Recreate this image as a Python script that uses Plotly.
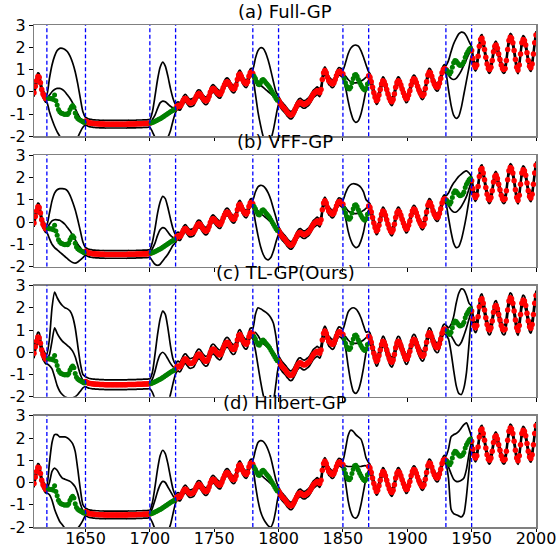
import plotly.graph_objects as go
from plotly.subplots import make_subplots

# ---------------- data ----------------
TRAIN_SEGMENTS = [(1610, 1620), (1650, 1700), (1720, 1780), (1800, 1850), (1870, 1930), (1950, 2000)]
GAPS = [(1620, 1650), (1700, 1720), (1780, 1800), (1850, 1870), (1930, 1950)]
GAP_EDGES = [1620, 1650, 1700, 1720, 1780, 1800, 1850, 1870, 1930, 1950]
X_TICKS = [1650, 1700, 1750, 1800, 1850, 1900, 1950, 2000]
Y_TICKS = [-2, -1, 0, 1, 2, 3]
Y_TICK_TEXT = ["-2", "-1", "0", "1", "2", "3"]

TRAIN_1610 = [-0.05, 0.25, 0.5, 0.68, 0.65, 0.4, 0.1, -0.1, -0.2, -0.3, -0.3]
TRAIN_1650 = [-1.32, -1.35, -1.38, -1.40, -1.41, -1.42, -1.43, -1.43, -1.44, -1.44,
              -1.44, -1.45, -1.45, -1.45, -1.45, -1.46, -1.46, -1.46, -1.46, -1.46,
              -1.46, -1.46, -1.46, -1.46, -1.46, -1.46, -1.46, -1.46, -1.46, -1.46,
              -1.46, -1.46, -1.46, -1.45, -1.45, -1.45, -1.45, -1.45, -1.45, -1.45,
              -1.44, -1.44, -1.44, -1.44, -1.44, -1.43, -1.43, -1.43, -1.43, -1.42, -1.42]
TRAIN_1720 = [-0.75, -0.65, -0.62, -0.66, -0.62, -0.5, -0.38, -0.3, -0.3, -0.38,
              -0.45, -0.5, -0.5, -0.48, -0.45, -0.35, -0.22, -0.12, -0.08, -0.1,
              -0.18, -0.28, -0.35, -0.4, -0.4, -0.35, -0.2, -0.02, 0.1, 0.15,
              0.12, 0.05, -0.02, -0.08, -0.12, -0.1, 0.02, 0.18, 0.32, 0.42,
              0.45, 0.42, 0.33, 0.22, 0.15, 0.12, 0.15, 0.3, 0.55, 0.75,
              0.8, 0.7, 0.55, 0.45, 0.38, 0.36, 0.45, 0.7, 0.85, 0.88,
              0.82]
TRAIN_1800 = [-0.38, -0.48, -0.58, -0.66, -0.72, -0.78, -0.86, -0.94, -1.0, -1.05,
              -1.05, -1.0, -0.9, -0.78, -0.65, -0.55, -0.48, -0.47, -0.52, -0.56,
              -0.57, -0.55, -0.5, -0.46, -0.4, -0.3, -0.2, -0.1, -0.05, 0.0,
              0.05, 0.0, -0.05, 0.1, 0.55, 0.85, 0.95, 0.85, 0.65, 0.5,
              0.45, 0.38, 0.35, 0.4, 0.55, 0.72, 0.85, 0.92, 0.9, 0.85,
              0.8]
TRAIN_1870 = [0.72, 0.65, 0.45, 0.2, -0.05, -0.25, -0.4, -0.35, -0.15, 0.1,
              0.35, 0.5, 0.45, 0.3, 0.1, -0.1, -0.28, -0.4, -0.45, -0.35,
              -0.1, 0.2, 0.42, 0.5, 0.45, 0.3, 0.12, -0.05, -0.2, -0.32,
              -0.3, -0.15, 0.05, 0.3, 0.5, 0.58, 0.55, 0.42, 0.25, 0.08,
              -0.05, -0.15, -0.18, -0.1, 0.15, 0.45, 0.75, 0.88, 0.85, 0.7,
              0.5, 0.35, 0.25, 0.2, 0.22, 0.38, 0.6, 0.85, 1.0, 1.05,
              1.0]
TRAIN_1950 = [1.85, 1.5, 1.2, 1.1, 1.2, 1.6, 2.05, 2.35, 2.4, 2.2,
              1.9, 1.55, 1.25, 1.05, 1.0, 1.1, 1.4, 1.8, 2.05, 2.1,
              1.95, 1.7, 1.45, 1.2, 1.05, 1.0, 1.05, 1.4, 1.9, 2.3,
              2.45, 2.4, 2.2, 1.85, 1.45, 1.1, 0.98, 1.2, 1.7, 2.2,
              2.35, 2.3, 2.1, 1.75, 1.4, 1.15, 1.08, 1.25, 1.7, 2.2,
              2.55]
TRAIN_VALUES = [TRAIN_1610, TRAIN_1650, TRAIN_1720, TRAIN_1800, TRAIN_1870, TRAIN_1950]

TEST_1620 = [-0.28, -0.3, -0.32, -0.3, -0.35, -0.15, -0.4, -0.6, -0.8, -0.9,
             -0.95, -0.98, -1.0, -1.02, -1.0, -1.02, -0.95, -0.8, -0.68, -0.62,
             -0.7, -0.95, -1.12, -1.2, -1.25, -1.28, -1.32, -1.35, -1.38]
TEST_1700 = [-1.4, -1.38, -1.36, -1.33, -1.3, -1.27, -1.24, -1.21, -1.18, -1.14,
             -1.1, -1.06, -1.02, -0.98, -0.94, -0.9, -0.86, -0.83, -0.8]
TEST_1780 = [0.7, 0.6, 0.45, 0.35, 0.32, 0.4, 0.52, 0.55, 0.5, 0.42,
             0.35, 0.28, 0.2, 0.1, 0.0, -0.1, -0.2, -0.3, -0.38]
TEST_1850 = [0.6, 0.4, 0.25, 0.15, 0.12, 0.2, 0.4, 0.6, 0.75, 0.78,
             0.7, 0.55, 0.42, 0.3, 0.2, 0.12, 0.08, 0.15, 0.35]
TEST_1930 = [0.95, 0.85, 0.8, 0.9, 1.1, 1.3, 1.4, 1.38, 1.3, 1.22,
             1.18, 1.2, 1.25, 1.35, 1.55, 1.7, 1.8, 1.9, 1.95]
TEST_VALUES = [TEST_1620, TEST_1700, TEST_1780, TEST_1850, TEST_1930]

# Predictions inside each gap, every 2 years (interior points), per model
FULL_GP = {
    "band": 0.17,
    "upper": [[0.6, 1.2, 1.6, 1.85, 1.95, 1.95, 1.9, 1.8, 1.6, 1.3, 0.9, 0.35, -0.3, -0.9],
              [-0.9, -0.2, 0.55, 1.1, 1.33, 1.15, 0.7, 0.15, -0.3],
              [1.5, 1.85, 1.98, 1.95, 1.75, 1.4, 0.95, 0.45, 0.0],
              [1.3, 1.7, 1.95, 2.07, 2.1, 2.05, 1.85, 1.55, 1.2],
              [1.4, 1.8, 2.15, 2.4, 2.6, 2.68, 2.65, 2.5, 2.25]],
    "mean": [[-0.15, 0.0, 0.1, 0.15, 0.15, 0.1, 0.0, -0.15, -0.3, -0.5, -0.75, -1.0, -1.2, -1.3],
             [-1.25, -1.05, -0.75, -0.5, -0.42, -0.45, -0.55, -0.65, -0.72],
             [0.65, 0.45, 0.3, 0.2, 0.1, 0.0, -0.1, -0.2, -0.3],
             [0.7, 0.55, 0.45, 0.4, 0.4, 0.42, 0.48, 0.55, 0.65],
             [0.75, 0.6, 0.55, 0.6, 0.75, 0.95, 1.2, 1.45, 1.7]],
    "lower": [[-0.9, -1.25, -1.55, -1.8, -2.0, -2.2, -2.35, -2.45, -2.5, -2.45, -2.3, -2.05, -1.8, -1.6],
              [-1.8, -2.05, -2.25, -2.35, -2.35, -2.25, -2.05, -1.75, -1.3],
              [-0.1, -0.9, -1.5, -2.0, -2.3, -2.35, -2.15, -1.7, -1.1],
              [0.2, -0.4, -0.9, -1.25, -1.38, -1.3, -1.0, -0.5, 0.1],
              [0.1, -0.6, -1.05, -1.2, -1.1, -0.7, -0.1, 0.5, 1.1]],
}
VFF_GP = {
    "band": 0.17,
    "upper": [[0.4, 0.95, 1.3, 1.45, 1.5, 1.5, 1.48, 1.4, 1.2, 0.9, 0.55, 0.1, -0.4, -0.9],
              [-0.9, -0.3, 0.4, 0.9, 1.15, 1.05, 0.65, 0.15, -0.3],
              [1.35, 1.58, 1.65, 1.62, 1.5, 1.3, 1.0, 0.6, 0.2],
              [1.3, 1.55, 1.68, 1.72, 1.7, 1.65, 1.55, 1.35, 1.0],
              [1.3, 1.55, 1.75, 1.9, 2.05, 2.15, 2.25, 2.3, 2.2]],
    "mean": [[-0.1, 0.05, 0.1, 0.1, 0.08, 0.0, -0.1, -0.25, -0.4, -0.6, -0.8, -1.0, -1.15, -1.3],
             [-1.2, -0.95, -0.6, -0.35, -0.25, -0.3, -0.45, -0.6, -0.7],
             [0.65, 0.5, 0.38, 0.3, 0.2, 0.1, 0.0, -0.1, -0.25],
             [0.65, 0.5, 0.42, 0.38, 0.38, 0.4, 0.45, 0.52, 0.62],
             [0.75, 0.55, 0.45, 0.45, 0.55, 0.7, 0.9, 1.15, 1.5]],
    "lower": [[-0.75, -1.0, -1.15, -1.25, -1.35, -1.45, -1.55, -1.65, -1.75, -1.82, -1.85, -1.8, -1.7, -1.6],
              [-1.75, -1.9, -1.95, -1.9, -1.75, -1.6, -1.45, -1.25, -1.05],
              [0.0, -0.6, -1.1, -1.45, -1.65, -1.7, -1.6, -1.3, -0.9],
              [0.2, -0.4, -0.8, -1.05, -1.15, -1.1, -0.85, -0.45, 0.15],
              [0.2, -0.45, -0.95, -1.15, -1.1, -0.8, -0.3, 0.3, 1.0]],
}
TL_GP = {
    "band": 0.22,
    "upper": [[0.6, 2.0, 2.7, 2.45, 2.25, 2.1, 2.0, 1.95, 1.85, 1.6, 1.1, 0.3, -0.5, -1.0],
              [-0.9, -0.1, 0.8, 1.5, 1.85, 1.7, 1.1, 0.3, -0.3],
              [1.7, 2.0, 1.95, 1.88, 1.8, 1.7, 1.55, 1.3, 0.7],
              [1.4, 1.8, 1.95, 2.0, 1.95, 1.8, 1.55, 1.2, 0.9],
              [1.1, 1.25, 1.6, 2.2, 2.65, 2.85, 2.8, 2.55, 2.2]],
    "mean": [[-0.1, 0.5, 1.1, 0.85, 0.65, 0.5, 0.4, 0.3, 0.2, 0.05, -0.2, -0.6, -1.0, -1.25],
             [-1.2, -0.85, -0.4, -0.1, 0.0, -0.1, -0.3, -0.5, -0.65],
             [0.9, 0.75, 0.55, 0.4, 0.3, 0.2, 0.1, 0.0, -0.15],
             [0.7, 0.55, 0.45, 0.4, 0.4, 0.42, 0.48, 0.55, 0.65],
             [0.9, 0.75, 0.55, 0.35, 0.3, 0.45, 0.75, 1.1, 1.5]],
    "lower": [[-0.6, -0.75, -1.1, -1.5, -1.75, -1.9, -2.0, -2.05, -2.05, -2.05, -2.0, -1.9, -1.75, -1.6],
              [-1.8, -2.1, -2.4, -2.6, -2.6, -2.5, -2.3, -1.9, -1.4],
              [0.1, -0.6, -1.3, -1.9, -2.3, -2.5, -2.5, -2.2, -1.4],
              [0.2, -0.6, -1.3, -1.75, -1.85, -1.7, -1.3, -0.7, 0.0],
              [0.6, 0.0, -0.8, -1.5, -1.85, -1.9, -1.6, -0.9, 0.4]],
}
HILBERT_GP = {
    "band": 0.17,
    "upper": [[0.9, 1.8, 2.15, 2.15, 2.05, 2.05, 2.05, 2.0, 1.9, 1.75, 1.4, 0.6, -0.3, -1.0],
              [-0.9, -0.2, 0.6, 1.2, 1.45, 1.3, 0.85, 0.25, -0.3],
              [1.45, 1.8, 1.88, 1.85, 1.7, 1.45, 1.1, 0.6, 0.1],
              [1.5, 2.1, 2.35, 2.3, 2.15, 2.05, 1.95, 1.6, 1.1],
              [1.5, 2.05, 2.15, 2.2, 2.3, 2.45, 2.6, 2.68, 2.4]],
    "mean": [[0.0, 0.5, 0.65, 0.55, 0.35, 0.2, 0.15, 0.1, 0.05, -0.05, -0.2, -0.5, -0.95, -1.25],
             [-1.15, -0.8, -0.4, -0.1, 0.05, 0.0, -0.2, -0.4, -0.6],
             [0.65, 0.5, 0.35, 0.25, 0.15, 0.05, -0.05, -0.15, -0.28],
             [0.75, 0.72, 0.72, 0.72, 0.72, 0.72, 0.72, 0.75, 0.75],
             [0.7, 0.4, 0.15, 0.05, 0.05, 0.1, 0.2, 0.6, 1.3]],
    "lower": [[-0.55, -0.8, -1.2, -1.5, -1.75, -1.9, -2.05, -2.15, -2.2, -2.2, -2.15, -2.05, -1.9, -1.7],
              [-1.8, -2.1, -2.35, -2.5, -2.5, -2.4, -2.2, -1.9, -1.4],
              [-0.1, -0.8, -1.3, -1.6, -1.8, -1.95, -2.0, -1.75, -1.2],
              [0.0, -0.8, -1.3, -1.55, -1.6, -1.45, -1.0, -0.4, 0.2],
              [0.2, -1.2, -1.4, -1.45, -1.5, -1.55, -1.4, -0.6, 0.6]],
}
MODELS = [("(a) Full-GP", FULL_GP), ("(b) VFF-GP", VFF_GP),
          ("(c) TL-GP(Ours)", TL_GP), ("(d) Hilbert-GP", HILBERT_GP)]

# ---------------- assemble ----------------
train_x, train_y = [], []
for (a, b), vals in zip(TRAIN_SEGMENTS, TRAIN_VALUES):
    train_x += list(range(a, b + 1))
    train_y += vals
test_x, test_y = [], []
for (a, b), vals in zip(GAPS, TEST_VALUES):
    test_x += list(range(a + 1, b))
    test_y += vals


def model_curves(m):
    xs, mu, up, lo = [], [], [], []
    for i, ((a, b), vals) in enumerate(zip(TRAIN_SEGMENTS, TRAIN_VALUES)):
        yrs = list(range(a, b + 1))
        xs += yrs
        mu += vals
        up += [v + m["band"] for v in vals]
        lo += [v - m["band"] for v in vals]
        if i < len(GAPS):
            g0, g1 = GAPS[i]
            gy = list(range(g0 + 2, g1 - 1, 2))
            xs += gy
            mu += m["mean"][i]
            up += m["upper"][i]
            lo += m["lower"][i]
    return xs, mu, up, lo


FONT = "DejaVu Sans, Liberation Sans, sans-serif"
fig = make_subplots(rows=4, cols=1, vertical_spacing=19 / 502)

for r, (title, m) in enumerate(MODELS, start=1):
    xs, mu, up, lo = model_curves(m)
    for ys in (up, lo, mu):
        fig.add_trace(go.Scatter(x=xs, y=ys, mode="lines",
                                 line=dict(color="black", width=1.7, shape="spline", smoothing=0.6),
                                 showlegend=False, hoverinfo="skip"), row=r, col=1)
    fig.add_trace(go.Scatter(x=train_x, y=train_y, mode="markers",
                             marker=dict(color="#ff0000", size=5.5, line=dict(width=0)),
                             showlegend=False), row=r, col=1)
    fig.add_trace(go.Scatter(x=test_x, y=test_y, mode="markers",
                             marker=dict(color="#008000", size=5, line=dict(width=0)),
                             showlegend=False), row=r, col=1)
    suffix = "" if r == 1 else str(r)
    for e in GAP_EDGES:
        fig.add_shape(type="line", xref="x" + suffix, yref="y" + suffix + " domain",
                      x0=e, x1=e, y0=0, y1=1,
                      line=dict(color="#0000ff", width=1.3, dash="4px,2.5px"), layer="above")
    fig.add_annotation(text=title, xref="x" + suffix + " domain", yref="y" + suffix + " domain",
                       x=0.5, y=1, yanchor="bottom", xanchor="center", showarrow=False,
                       yshift=1, font=dict(size=18, color="black", family=FONT))
    fig.update_xaxes(range=[1610, 2000], tickvals=X_TICKS, showticklabels=(r == 4),
                     ticks="outside", ticklen=3.5, tickwidth=1, tickcolor="black",
                     ticklabelstandoff=-7,
                     tickfont=dict(size=16, color="black", family=FONT),
                     showline=True, linecolor="#808080", linewidth=1.5, mirror=True,
                     showgrid=False, zeroline=False, automargin=False, row=r, col=1)
    fig.update_yaxes(range=[-2, 3], tickvals=Y_TICKS, ticktext=Y_TICK_TEXT,
                     ticks="outside", ticklen=3.5, tickwidth=1, tickcolor="black",
                     tickfont=dict(size=16, color="black", family=FONT),
                     showline=True, linecolor="#808080", linewidth=1.5, mirror=True,
                     showgrid=False, zeroline=False, automargin=False, row=r, col=1)

fig.update_layout(width=558, height=550, template=None,
                  margin=dict(l=34, r=22, t=25, b=23),
                  paper_bgcolor="white", plot_bgcolor="white",
                  font=dict(family=FONT, size=16, color="black"),
                  showlegend=False, hovermode=False)
fig.write_html("out.html", config={"displayModeBar": False, "staticPlot": True},
               post_script="document.body.style.margin='0';document.body.style.overflow='hidden';")
